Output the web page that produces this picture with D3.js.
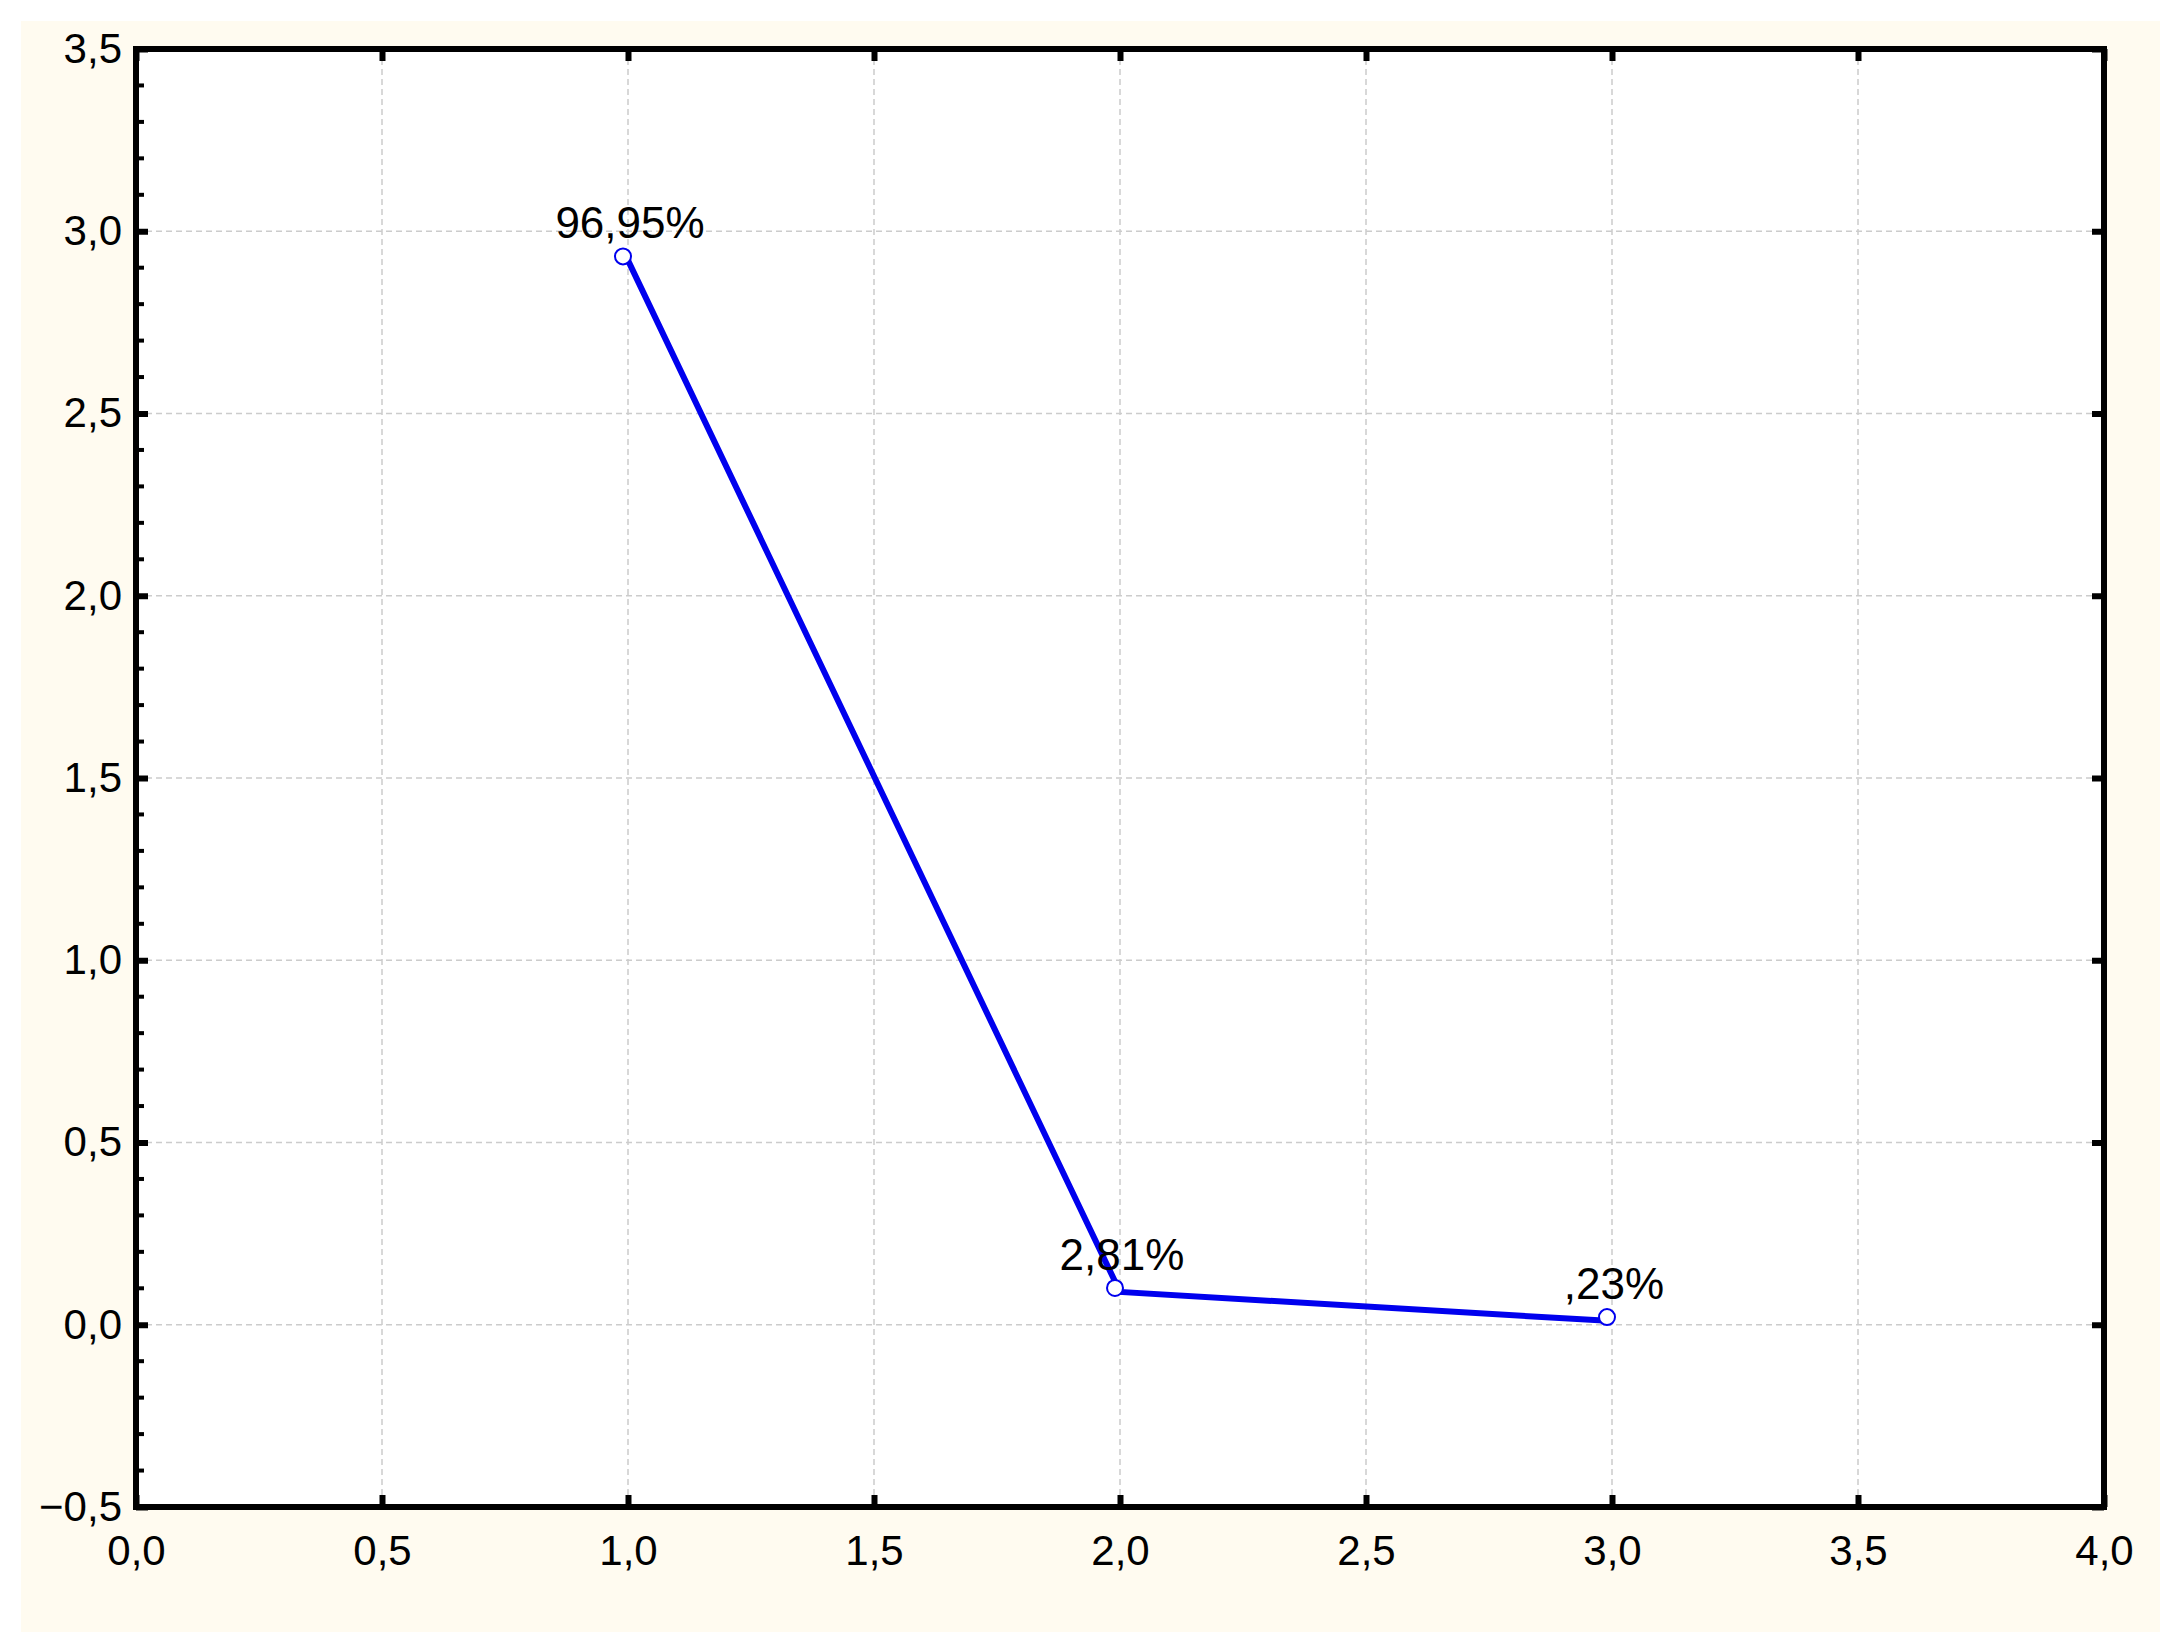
<!DOCTYPE html>
<html><head><meta charset="utf-8">
<script src="https://cdn.jsdelivr.net/npm/d3@7"></script>
<style>body{margin:0;background:#fff}text{font-family:"Liberation Sans Narrow","Liberation Sans",Arial,sans-serif}</style>
</head><body><svg id="c" width="2178" height="1650"></svg>
<script>
var xs = [1, 2, 3];
var ys = [2.92, 0.09, 0.01];
var labels = ["96,95%", "2,81%", ",23%"];
var xTicks = [0, 0.5, 1, 1.5, 2, 2.5, 3, 3.5, 4];
var yTicks = [-0.5, 0, 0.5, 1, 1.5, 2, 2.5, 3, 3.5];

var svg = d3.select('#c');
var m = {l: 136, r: 2104, t: 49, b: 1507};
var fmt = function (v) { return d3.format('.1f')(v).replace('.', ','); };

svg.append('rect').attr('x', 21).attr('y', 21).attr('width', 2139).attr('height', 1611).attr('fill', '#fffbf0');
svg.append('rect').attr('x', m.l).attr('y', m.t).attr('width', m.r - m.l).attr('height', m.b - m.t).attr('fill', '#fff');

var x = d3.scaleLinear().domain([0, 4]).range([m.l, m.r]);
var y = d3.scaleLinear().domain([-0.5, 3.5]).range([m.b, m.t]);

// grid
svg.selectAll('.gx').data(xTicks.slice(1, -1)).enter().append('line')
    .attr('x1', x).attr('x2', x).attr('y1', m.t).attr('y2', m.b)
    .attr('stroke', '#ccc').attr('stroke-width', 1.5).attr('stroke-dasharray', '6,4');
svg.selectAll('.gy').data(yTicks.slice(1, -1)).enter().append('line')
    .attr('y1', y).attr('y2', y).attr('x1', m.l).attr('x2', m.r)
    .attr('stroke', '#ccc').attr('stroke-width', 1.5).attr('stroke-dasharray', '6,4');

// axes with inward ticks
function ax(gen, tr) {
    var g = svg.append('g').attr('transform', tr).call(gen);
    g.select('.domain').remove();
    g.selectAll('line').attr('stroke', '#000').attr('stroke-width', 6);
    g.selectAll('text').attr('font-size', 42).attr('fill', '#000');
    return g;
}
ax(d3.axisBottom(x).tickValues(xTicks).tickSize(-12).tickPadding(28).tickFormat(fmt), 'translate(0,' + m.b + ')');
ax(d3.axisLeft(y).tickValues(yTicks).tickSize(-12).tickPadding(14).tickFormat(fmt), 'translate(' + m.l + ',0)');
ax(d3.axisTop(x).tickValues(xTicks).tickSize(-12).tickFormat(''), 'translate(0,' + m.t + ')');
ax(d3.axisRight(y).tickValues(yTicks).tickSize(-12).tickFormat(''), 'translate(' + m.r + ',0)');
// minor ticks on left
var minor = d3.range(-0.5, 3.5, 0.1).filter(function (v) { return Math.abs(v * 2 - Math.round(v * 2)) > 0.01; });
svg.selectAll('.mn').data(minor).enter().append('line')
    .attr('x1', m.l).attr('x2', m.l + 8).attr('y1', y).attr('y2', y)
    .attr('stroke', '#000').attr('stroke-width', 4);

svg.append('rect').attr('x', m.l).attr('y', m.t).attr('width', m.r - m.l).attr('height', m.b - m.t)
    .attr('fill', 'none').attr('stroke', '#000').attr('stroke-width', 6);

var pts = xs.map(function (d, i) { return [d, ys[i], labels[i]]; });
svg.append('path').datum(pts)
    .attr('d', d3.line().x(function (d) { return x(d[0]); }).y(function (d) { return y(d[1]); }))
    .attr('fill', 'none').attr('stroke', '#0000ee').attr('stroke-width', 6);
svg.selectAll('.pt').data(pts).enter().append('circle')
    .attr('cx', function (d) { return x(d[0]) - 5; }).attr('cy', function (d) { return y(d[1]) - 4; })
    .attr('r', 8).attr('fill', '#fff').attr('stroke', '#0000ee').attr('stroke-width', 2);
svg.selectAll('.lb').data(pts).enter().append('text')
    .attr('x', function (d) { return x(d[0]) + 2; }).attr('y', function (d) { return y(d[1]) - 22; })
    .attr('text-anchor', 'middle').attr('font-size', 44).text(function (d) { return d[2]; });
</script></body></html>
